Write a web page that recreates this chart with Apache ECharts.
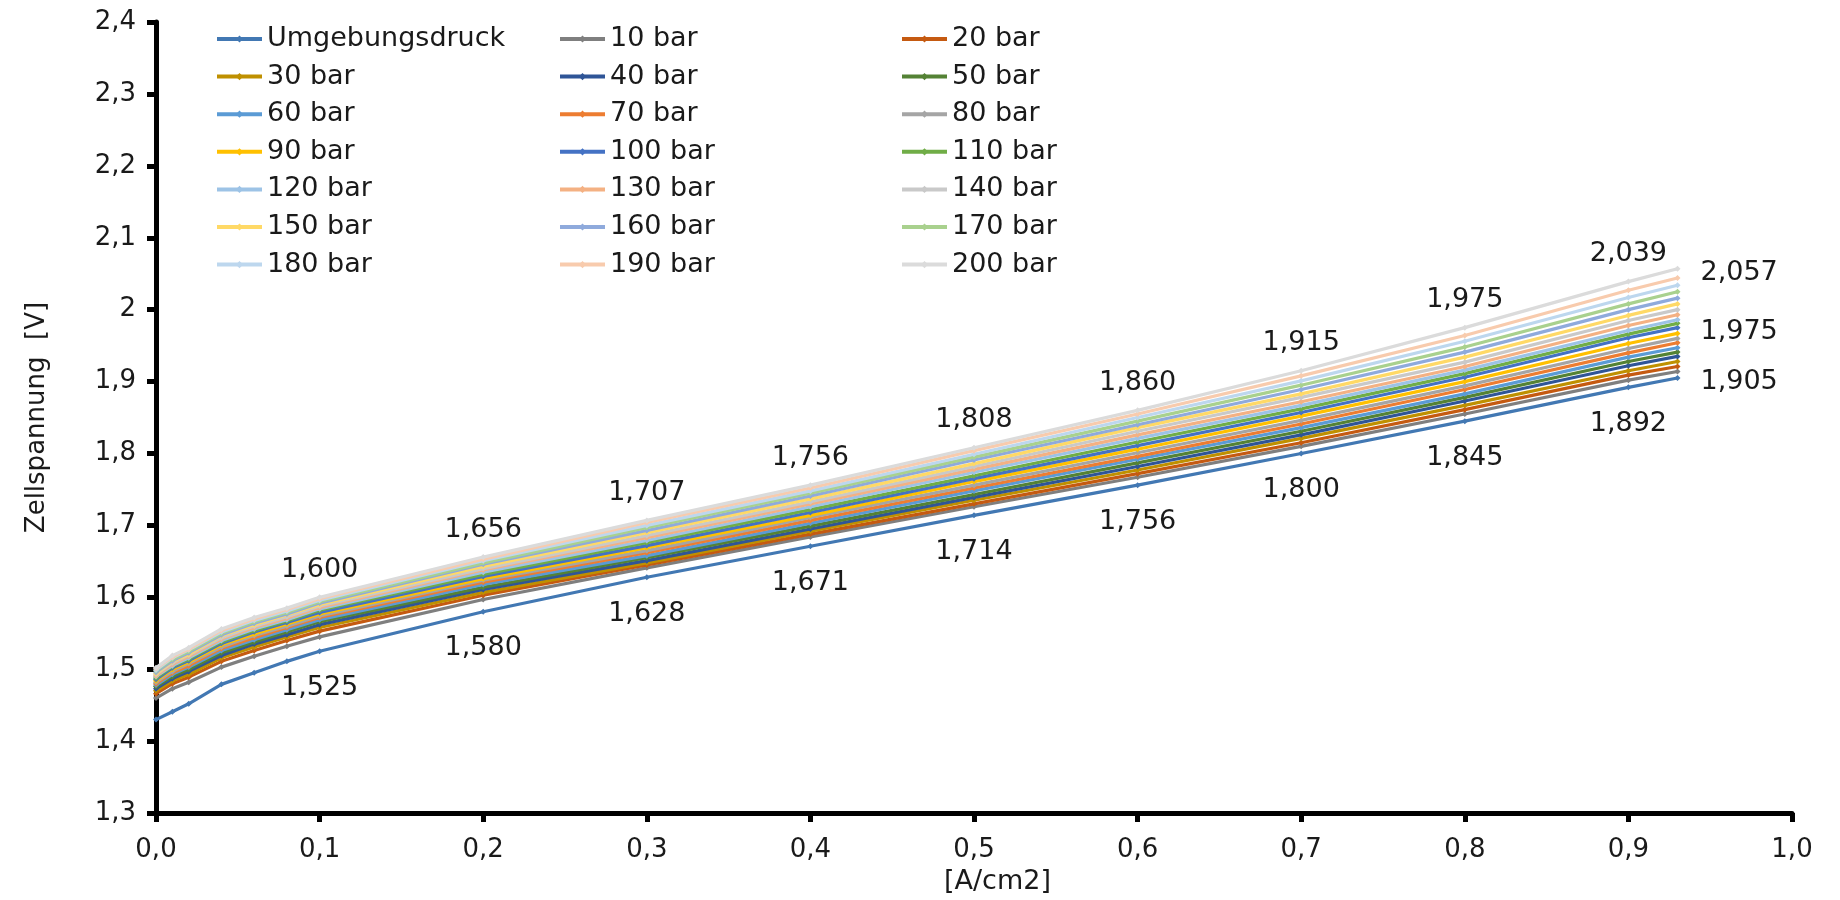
<!DOCTYPE html>
<html>
<head>
<meta charset="utf-8">
<title>Zellspannung</title>
<script src="https://cdn.jsdelivr.net/npm/echarts@6/dist/echarts.min.js"></script>
<style>
  html, body { margin: 0; padding: 0; background: #fff; }
  #mainChart { width: 1840px; height: 900px; }
</style>
</head>
<body>
<div id="mainChart"></div>
<script>
// Stromdichte [A/cm2]
var xValues = [0, 0.01, 0.02, 0.04, 0.06, 0.08, 0.1, 0.2, 0.3, 0.4, 0.5, 0.6, 0.7, 0.8, 0.9, 0.93];

// Zellspannung [V] je Druckstufe
var umgebungsdruck = [1.430, 1.441, 1.452, 1.479, 1.495, 1.511, 1.525, 1.580, 1.628, 1.671, 1.714, 1.756, 1.800, 1.845, 1.892, 1.905];
var bar10  = [1.460, 1.473, 1.482, 1.503, 1.518, 1.532, 1.545, 1.597, 1.641, 1.684, 1.726, 1.767, 1.810, 1.855, 1.902, 1.914];
var bar20  = [1.466, 1.480, 1.489, 1.511, 1.526, 1.540, 1.553, 1.603, 1.645, 1.688, 1.730, 1.772, 1.815, 1.861, 1.909, 1.921];
var bar30  = [1.470, 1.484, 1.493, 1.516, 1.531, 1.545, 1.558, 1.607, 1.648, 1.692, 1.735, 1.777, 1.821, 1.867, 1.915, 1.928];
var bar40  = [1.473, 1.487, 1.497, 1.519, 1.535, 1.548, 1.562, 1.611, 1.651, 1.695, 1.739, 1.782, 1.826, 1.873, 1.922, 1.935];
var bar50  = [1.476, 1.490, 1.500, 1.523, 1.538, 1.552, 1.566, 1.614, 1.655, 1.699, 1.743, 1.787, 1.831, 1.878, 1.928, 1.941];
var bar60  = [1.478, 1.493, 1.503, 1.526, 1.541, 1.555, 1.569, 1.618, 1.658, 1.703, 1.748, 1.792, 1.836, 1.883, 1.934, 1.947];
var bar70  = [1.480, 1.495, 1.505, 1.529, 1.544, 1.558, 1.572, 1.621, 1.662, 1.707, 1.752, 1.796, 1.841, 1.889, 1.940, 1.954];
var bar80  = [1.482, 1.497, 1.508, 1.531, 1.547, 1.560, 1.574, 1.624, 1.665, 1.711, 1.756, 1.801, 1.846, 1.894, 1.946, 1.960];
var bar90  = [1.484, 1.500, 1.510, 1.534, 1.549, 1.563, 1.577, 1.626, 1.669, 1.714, 1.761, 1.806, 1.852, 1.900, 1.953, 1.967];
var bar100 = [1.486, 1.502, 1.512, 1.536, 1.552, 1.565, 1.579, 1.629, 1.672, 1.718, 1.765, 1.811, 1.857, 1.906, 1.961, 1.975];
var bar110 = [1.488, 1.504, 1.514, 1.538, 1.554, 1.567, 1.582, 1.632, 1.676, 1.722, 1.769, 1.816, 1.862, 1.911, 1.966, 1.981];
var bar120 = [1.490, 1.505, 1.516, 1.540, 1.556, 1.569, 1.584, 1.635, 1.679, 1.726, 1.774, 1.821, 1.867, 1.916, 1.971, 1.986];
var bar130 = [1.491, 1.507, 1.518, 1.542, 1.558, 1.571, 1.586, 1.638, 1.683, 1.730, 1.778, 1.826, 1.872, 1.921, 1.978, 1.993];
var bar140 = [1.493, 1.509, 1.520, 1.544, 1.560, 1.573, 1.588, 1.640, 1.686, 1.733, 1.782, 1.831, 1.878, 1.927, 1.985, 2.000];
var bar150 = [1.494, 1.511, 1.521, 1.547, 1.562, 1.576, 1.590, 1.643, 1.690, 1.737, 1.786, 1.836, 1.883, 1.934, 1.992, 2.008];
var bar160 = [1.496, 1.512, 1.523, 1.548, 1.564, 1.577, 1.592, 1.646, 1.693, 1.741, 1.791, 1.840, 1.889, 1.941, 2.000, 2.016];
var bar170 = [1.498, 1.514, 1.525, 1.550, 1.566, 1.579, 1.594, 1.648, 1.697, 1.745, 1.795, 1.845, 1.895, 1.948, 2.008, 2.025];
var bar180 = [1.499, 1.516, 1.527, 1.552, 1.568, 1.581, 1.596, 1.651, 1.700, 1.748, 1.799, 1.850, 1.901, 1.956, 2.017, 2.034];
var bar190 = [1.501, 1.517, 1.528, 1.554, 1.570, 1.583, 1.598, 1.653, 1.704, 1.752, 1.804, 1.855, 1.908, 1.964, 2.027, 2.044];
var bar200 = [1.502, 1.519, 1.530, 1.556, 1.572, 1.585, 1.600, 1.656, 1.707, 1.756, 1.808, 1.860, 1.915, 1.975, 2.039, 2.057];

var seriesNames = ["Umgebungsdruck", "10 bar", "20 bar", "30 bar", "40 bar", "50 bar", "60 bar",
    "70 bar", "80 bar", "90 bar", "100 bar", "110 bar", "120 bar", "130 bar", "140 bar",
    "150 bar", "160 bar", "170 bar", "180 bar", "190 bar", "200 bar"];
var seriesValues = [umgebungsdruck, bar10, bar20, bar30, bar40, bar50, bar60, bar70, bar80, bar90,
    bar100, bar110, bar120, bar130, bar140, bar150, bar160, bar170, bar180, bar190, bar200];
var colors = ["#4278b3", "#7f7f7f", "#c55a11", "#bf9000", "#2f5597", "#548235", "#5b9bd5",
    "#ed7d31", "#a5a5a5", "#ffc000", "#4472c4", "#70ad47", "#9dc3e6", "#f4b183", "#c9c9c9",
    "#ffd966", "#8faadc", "#a9d18e", "#bdd7ee", "#f8cbad", "#dbdbdb"];

var fontName = "DejaVu Sans";
var textColor = "#1a1a1a";

function komma(v, digits) {
    return v.toFixed(digits).replace(".", ",");
}

// Beschriftung: welche Punkte einer Reihe einen Wert zeigen
function labelFor(name, idx, last) {
    var base = {
        show: true,
        fontFamily: fontName,
        fontSize: 27,
        color: textColor,
        formatter: function (p) { return komma(p.value[1], 3); }
    };
    if (idx === last && (name === "Umgebungsdruck" || name === "200 bar" || name === "100 bar")) {
        base.position = "right";
        base.distance = 20;
        base.offset = [0, 4];
        return base;
    }
    if (name === "Umgebungsdruck" && idx >= 6) {
        base.position = "bottom";
        base.distance = 20;
        return base;
    }
    if (name === "200 bar" && idx >= 6) {
        base.position = "top";
        base.distance = 11;
        return base;
    }
    return null;
}

var series = [];
var eachItem = function (arr, fn) { for (var i = 0; i < arr.length; i++) fn(i, arr[i]); };
eachItem(seriesNames, function (s, name) {
    var vals = seriesValues[s];
    var data = [];
    for (var i = 0; i < xValues.length; i++) {
        var item = { value: [xValues[i], vals[i]] };
        var lab = labelFor(name, i, xValues.length - 1);
        if (lab) item.label = lab;
        data.push(item);
    }
    series.push({
        name: name,
        type: "line",
        data: data,
        symbol: "diamond",
        symbolSize: 6,
        showSymbol: true,
        lineStyle: { width: 3.2, color: colors[s] },
        itemStyle: { color: colors[s] },
        emphasis: { disabled: true },
        z: 2 + s
    });
});

// drei Legendenspalten wie im Original
var legendCols = [[], [], []];
eachItem(seriesNames, function (i, name) { legendCols[i % 3].push(name); });
var legendLefts = [210, 553, 895];
var legends = legendCols.map(function (col, c) {
    return {
        orient: "vertical",
        left: legendLefts[c],
        top: 19,
        data: col,
        itemWidth: 45,
        itemHeight: 9,
        itemGap: 7.6,
        selectedMode: false,
        lineStyle: { width: 4 },
        textStyle: { fontFamily: fontName, fontSize: 27, color: textColor, lineHeight: 30 }
    };
});

var chart = echarts.init(document.getElementById("mainChart"), null, { renderer: "canvas" });
chart.setOption({
    animation: false,
    backgroundColor: "#fff",
    color: colors,
    legend: legends,
    grid: { left: 156, right: 48, top: 22, bottom: 85, containLabel: false },
    xAxis: {
        type: "value",
        min: 0,
        max: 1,
        interval: 0.1,
        name: "[A/cm2]",
        nameLocation: "middle",
        nameGap: 52,
        nameTextStyle: { fontFamily: fontName, fontSize: 27, color: textColor, padding: [0, 0, 0, 47] },
        axisLine: { lineStyle: { color: "#000", width: 5 } },
        axisTick: { show: true, length: 9, lineStyle: { color: "#000", width: 5 } },
        axisLabel: {
            fontFamily: fontName, fontSize: 26, color: textColor, margin: 24,
            formatter: function (v) { return komma(v, 1); }
        },
        splitLine: { show: false }
    },
    yAxis: {
        type: "value",
        min: 1.3,
        max: 2.4,
        interval: 0.1,
        name: "Zellspannung  [V]",
        nameLocation: "middle",
        nameRotate: 90,
        nameGap: 106,
        nameTextStyle: { fontFamily: fontName, fontSize: 26, color: textColor },
        axisLine: { show: true, lineStyle: { color: "#000", width: 5 } },
        axisTick: { show: true, length: 9, lineStyle: { color: "#000", width: 5 } },
        axisLabel: {
            fontFamily: fontName, fontSize: 26, color: textColor, margin: 20,
            formatter: function (v) { return String(Math.round(v * 10) / 10).replace(".", ","); }
        },
        splitLine: { show: false }
    },
    series: series
});
</script>
</body>
</html>
